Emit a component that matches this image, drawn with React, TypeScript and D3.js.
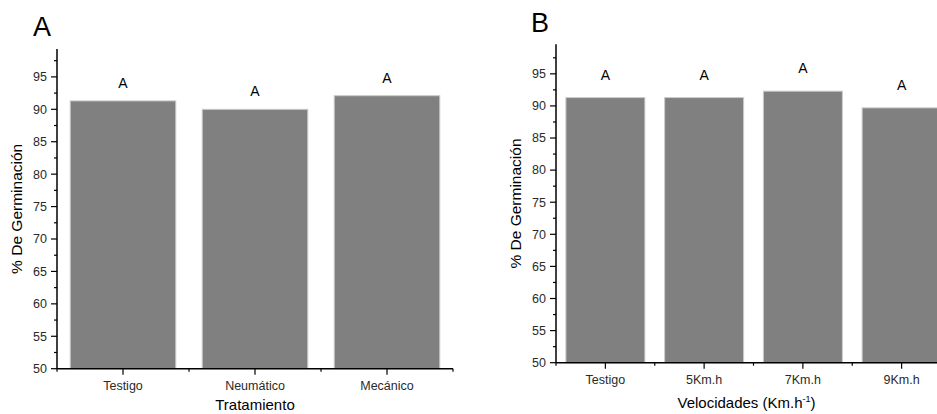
import * as d3 from "d3"

// panel A
const tratamientos = ["Testigo", "Neumático", "Mecánico"]
const germinacionA = [91.3, 90.0, 92.1]
const letrasA = ["A", "A", "A"]

// panel B
const velocidades = ["Testigo", "5Km.h", "7Km.h", "9Km.h"]
const germinacionB = [91.3, 91.3, 92.3, 89.7]
const letrasB = ["A", "A", "A", "A"]

const majorTicks = [50, 55, 60, 65, 70, 75, 80, 85, 90, 95]
const minorTicks = [52.5, 57.5, 62.5, 67.5, 72.5, 77.5, 82.5, 87.5, 92.5, 97.5]

const FONT = "'Liberation Sans', Arial, sans-serif"
const BAR_FILL = "#808080"
const BAR_EDGE = "#cccccc"

type PanelProps = {
  tag: string
  categories: string[]
  values: number[]
  letters: string[]
  yMax: number
  left: number
  right: number
  top: number
  bottom: number
  xTitle: React.ReactNode
  tagX: number
  tagY: number
  titleY: number
  letterGap: number
}

function Panel({
  tag,
  categories,
  values,
  letters,
  yMax,
  left,
  right,
  top,
  bottom,
  xTitle,
  tagX,
  tagY,
  titleY,
  letterGap,
}: PanelProps) {
  const x = d3
    .scaleBand<string>()
    .domain(categories)
    .range([left, right])
    .paddingInner(0.2)
    .paddingOuter(0.1)
  const y = d3.scaleLinear().domain([50, yMax]).range([bottom, top])
  const step = x.step()
  const bounds = d3.range(categories.length + 1).map((i) => left + i * step)
  const midX = (left + Math.min(right, 937)) / 2

  return (
    <g fontFamily={FONT}>
      <text x={tagX} y={tagY} fontSize={27}>
        {tag}
      </text>

      {categories.map((c, i) => {
        const x0 = x(c) ?? 0
        return (
          <g key={c}>
            <rect
              x={x0}
              y={y(values[i])}
              width={x.bandwidth()}
              height={bottom - y(values[i])}
              fill={BAR_FILL}
              stroke={BAR_EDGE}
              strokeWidth={1}
            />
            <text
              x={x0 + x.bandwidth() / 2}
              y={y(values[i]) - letterGap}
              textAnchor="middle"
              fontSize={14}
            >
              {letters[i]}
            </text>
          </g>
        )
      })}

      {/* y axis */}
      <line x1={left} x2={left} y1={top} y2={bottom} stroke="#000" strokeWidth={1.5} />
      {majorTicks.map((t) => (
        <g key={t}>
          <line x1={left - 6} x2={left} y1={y(t)} y2={y(t)} stroke="#000" strokeWidth={1.2} />
          <text
            x={left - 10}
            y={y(t)}
            dy="0.35em"
            textAnchor="end"
            fontSize={12.5}
            fill="#2a2a2a"
          >
            {t}
          </text>
        </g>
      ))}
      {minorTicks.map((t) => (
        <line key={t} x1={left - 3} x2={left} y1={y(t)} y2={y(t)} stroke="#000" strokeWidth={1.2} />
      ))}
      <text
        transform={`translate(${left - 40},${(top + bottom) / 2}) rotate(-90)`}
        textAnchor="middle"
        dy="0.35em"
        fontSize={15.5}
      >
        % De Germinación
      </text>

      {/* x axis */}
      <line x1={left} x2={right} y1={bottom} y2={bottom} stroke="#000" strokeWidth={1.5} />
      {categories.map((c) => {
        const cx = (x(c) ?? 0) + x.bandwidth() / 2
        return (
          <g key={c}>
            <line x1={cx} x2={cx} y1={bottom} y2={bottom + 6} stroke="#000" strokeWidth={1.2} />
            <text x={cx} y={bottom + 17} dy="0.35em" textAnchor="middle" fontSize={12.5} fill="#2a2a2a">
              {c}
            </text>
          </g>
        )
      })}
      {bounds.map((b) => (
        <line key={b} x1={b} x2={b} y1={bottom} y2={bottom + 3} stroke="#000" strokeWidth={1.2} />
      ))}
      <text x={midX} y={titleY} dy="0.35em" textAnchor="middle" fontSize={15}>
        {xTitle}
      </text>
    </g>
  )
}

export default function App() {
  return (
    <svg
      width={937}
      height={414}
      style={{ position: "fixed", left: 0, top: 0, background: "#fff" }}
    >
      <rect width={937} height={414} fill="#fff" />
      <Panel
        tag="A"
        categories={tratamientos}
        values={germinacionA}
        letters={letrasA}
        yMax={99.3}
        left={57}
        right={453}
        top={49}
        bottom={368.7}
        xTitle="Tratamiento"
        tagX={33}
        tagY={36}
        titleY={405}
        letterGap={13}
      />
      <Panel
        tag="B"
        categories={velocidades}
        values={germinacionB}
        letters={letrasB}
        yMax={99.6}
        left={556}
        right={951}
        top={44.3}
        bottom={362.7}
        xTitle={
          <>
            Velocidades (Km.h
            <tspan fontSize={9} dy={-6}>-1</tspan>
            <tspan dy={6}>)</tspan>
          </>
        }
        tagX={531}
        tagY={32}
        titleY={403}
        letterGap={18}
      />
    </svg>
  )
}
